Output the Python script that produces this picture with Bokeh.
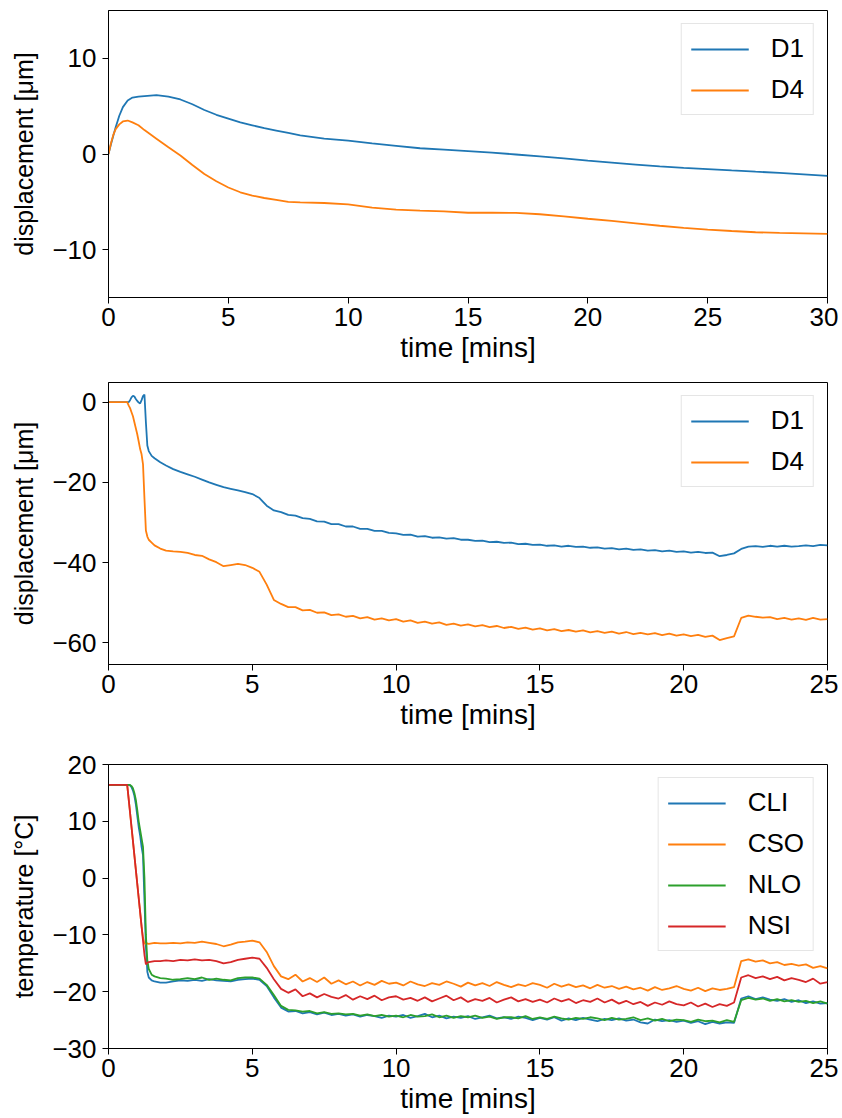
from bokeh.plotting import figure
from bokeh.layouts import column
from bokeh.models import Range1d, FixedTicker
from bokeh.embed import file_html
from bokeh.resources import INLINE

FONT = "Liberation Sans"
BLUE, ORANGE, GREEN, RED = "#1f77b4", "#ff7f0e", "#2ca02c", "#d62728"

# ---------------- Panel 1 data (time in minutes, displacement in um) ----------------
t30 = [0, 0.1, 0.2, 0.3, 0.45, 0.6, 0.8, 1.0, 1.25, 1.5, 2.0, 2.5, 3.0, 3.5, 4.0, 4.5,
       5.0, 5.5, 6.0, 6.5, 7.0, 7.5, 8.0, 9.0,
       10, 11, 12, 13, 14, 15, 16, 17, 18, 19, 20, 21, 22, 23, 24, 25, 26, 27, 28, 29, 30]
d1_a = [0, 1.0, 1.9, 2.8, 4.0, 4.9, 5.6, 5.9, 6.0, 6.05, 6.15, 6.0, 5.7, 5.2, 4.6, 4.1,
        3.7, 3.3, 3.0, 2.7, 2.45, 2.2, 1.95, 1.6,
        1.4, 1.1, 0.85, 0.6, 0.45, 0.3, 0.15, -0.05, -0.25, -0.45, -0.7, -0.9, -1.1, -1.3,
        -1.45, -1.58, -1.72, -1.85, -1.97, -2.12, -2.28]
d4_a = [0, 1.1, 2.0, 2.6, 3.1, 3.4, 3.5, 3.3, 3.0, 2.5, 1.6, 0.7, -0.15, -1.15, -2.1, -2.85,
        -3.5, -4.0, -4.35, -4.6, -4.8, -5.0, -5.05, -5.12,
        -5.26, -5.6, -5.82, -5.92, -6.0, -6.14, -6.14, -6.16, -6.3, -6.52, -6.77, -7.0,
        -7.25, -7.5, -7.72, -7.9, -8.05, -8.18, -8.25, -8.3, -8.35]

# ---------------- Shared time grid for panels 2 and 3 ----------------
t25_early = [0, 0.5, 0.65, 0.7, 0.75, 0.8, 0.85, 0.9, 0.95, 1.0, 1.05, 1.1, 1.15, 1.2,
             1.25, 1.3, 1.35, 1.4, 1.5, 1.6, 1.8]
t25_late = [2.0, 2.25, 2.5, 2.75, 3.0, 3.25, 3.5, 3.75, 4.0, 4.25, 4.5, 4.75,
            5.0, 5.25, 5.5, 5.75, 6.0, 6.25, 6.5, 6.75, 7.0, 7.25, 7.5, 7.75,
            8.0, 8.25, 8.5, 8.75, 9.0, 9.25, 9.5, 9.75, 10.0, 10.25, 10.5, 10.75,
            11.0, 11.25, 11.5, 11.75, 12.0, 12.25, 12.5, 12.75, 13.0, 13.25, 13.5, 13.75,
            14.0, 14.25, 14.5, 14.75, 15.0, 15.25, 15.5, 15.75, 16.0, 16.25, 16.5, 16.75,
            17.0, 17.25, 17.5, 17.75, 18.0, 18.25, 18.5, 18.75, 19.0, 19.25, 19.5, 19.75,
            20.0, 20.25, 20.5, 20.75, 21.0, 21.25, 21.5, 21.75, 22.0, 22.25, 22.5, 22.75,
            23.0, 23.25, 23.5, 23.75, 24.0, 24.25, 24.5, 24.75, 25.0]

# ---------------- Panel 2 data ----------------
d1_b_early = [0, 0, 0, 0, 0.5, 1.2, 1.6, 1.4, 0.8, 0.3, -0.1, -0.3, 0.5, 1.5, 1.9,
              -5.0, -10.8, -12.2, -13.4, -14.0, -15.0]
d1_b_late = [-15.8, -16.7, -17.4, -18.0, -18.6, -19.3, -20.0, -20.6,
             -21.2, -21.6, -22.0, -22.4, -22.9, -23.9, -25.8, -27.0,
             -27.4, -28.1, -28.3, -28.9, -29.1, -29.7, -29.8, -30.4,
             -30.4, -31.0, -31.0, -31.6, -31.6, -32.1, -32.1, -32.6,
             -32.7, -33.1, -33.0, -33.5, -33.4, -33.8, -33.7, -34.0,
             -33.9, -34.3, -34.3, -34.6, -34.5, -34.9, -34.8, -35.1,
             -35.0, -35.4, -35.3, -35.6, -35.5, -35.8, -35.7, -36.0,
             -35.8, -36.1, -36.0, -36.3, -36.2, -36.5, -36.4, -36.7,
             -36.5, -36.8, -36.7, -37.0, -36.9, -37.2, -37.0, -37.3,
             -37.2, -37.5, -37.3, -37.6, -37.5, -38.4, -38.1, -37.7,
             -36.6, -36.0, -35.9, -36.1, -35.8, -36.0, -35.8, -36.0,
             -35.9, -35.7, -35.9, -35.6, -35.7]
d4_b_early = [0, 0, 0, -0.8, -1.5, -2.5, -3.5, -5.0, -6.5, -8.0, -9.8, -11.7, -13.0,
              -15.5, -24.0, -32.0, -33.5, -34.3, -35.0, -35.7, -36.5]
d4_b_late = [-37.0, -37.2, -37.3, -37.6, -38.1, -38.3, -39.2, -39.9,
             -40.9, -40.6, -40.3, -40.6, -41.3, -42.3, -45.5, -49.3,
             -50.3, -51.1, -51.1, -51.9, -51.8, -52.5, -52.4, -53.1,
             -52.9, -53.5, -53.3, -53.9, -53.6, -54.2, -53.9, -54.4,
             -54.1, -54.7, -54.4, -55.0, -54.7, -55.2, -54.9, -55.5,
             -55.2, -55.7, -55.4, -55.9, -55.6, -56.1, -55.8, -56.3,
             -56.0, -56.5, -56.2, -56.7, -56.4, -56.9, -56.6, -57.1,
             -56.8, -57.2, -56.9, -57.4, -57.1, -57.5, -57.2, -57.7,
             -57.3, -57.8, -57.5, -57.9, -57.6, -58.1, -57.7, -58.2,
             -57.9, -58.3, -58.0, -58.5, -58.2, -59.3, -58.8, -58.4,
             -53.8, -53.2, -53.5, -53.7, -53.6, -54.1, -53.8, -54.2,
             -53.9, -54.3, -53.8, -54.2, -54.1]

# ---------------- Panel 3 data (temperature, deg C) ----------------
cli_early = [16.4, 16.4, 16.4, 16.4, 16.3, 16.0, 15.4, 14.5, 13.0, 11.0, 9.0, 7.5, 5.5,
             4.0, -4.0, -12.0, -16.5, -17.5, -18.0, -18.2, -18.4]
cli_late = [-18.4, -18.2, -18.0, -18.1, -17.9, -18.1, -17.8, -18.0,
            -18.1, -18.2, -17.9, -17.8, -17.7, -17.9, -19.0, -21.0,
            -22.8, -23.5, -23.4, -23.8, -23.6, -24.0, -23.7, -24.1,
            -23.9, -24.2, -24.0, -24.4, -24.1, -24.3, -24.6, -24.2,
            -24.4, -24.1, -24.6, -24.3, -23.9, -24.5, -24.2, -24.7,
            -24.4, -24.6, -24.3, -24.8, -24.5, -24.2, -24.7, -24.5,
            -24.8, -24.4, -24.6, -25.0, -24.6, -24.9, -24.5, -25.1,
            -24.7, -25.0, -24.6, -24.9, -25.2, -24.8, -25.0, -24.7,
            -25.1, -24.9, -25.4, -25.6, -24.9, -25.2, -25.0, -25.3,
            -25.1, -25.5, -25.2, -25.7, -25.3, -25.6, -25.4, -25.5,
            -21.2, -20.8, -21.3, -21.0, -21.4, -21.6, -21.3, -21.8,
            -21.5, -22.0, -21.7, -22.1, -22.0]
cso_early = [16.4, 16.4, 16.4, 14.0, 11.5, 9.0, 6.5, 4.0, 1.5, -1.0, -3.5, -6.0, -8.5,
             -10.5, -11.5, -11.6, -11.5, -11.6, -11.5, -11.4, -11.5]
cso_late = [-11.5, -11.4, -11.5, -11.3, -11.4, -11.2, -11.4, -11.6,
            -12.0, -11.7, -11.3, -11.2, -11.0, -11.3, -13.0, -15.5,
            -17.3, -17.8, -17.0, -18.2, -17.6, -18.3, -17.5, -18.6,
            -18.0, -18.7, -18.2, -18.9, -18.3, -18.8, -18.1, -18.6,
            -18.4, -18.9, -18.2, -18.7, -19.0, -18.5, -18.8, -18.2,
            -18.6, -19.1, -18.4, -18.9, -18.5, -19.0, -18.3, -18.8,
            -19.2, -18.7, -19.0, -18.5, -18.8, -19.3, -18.6, -19.1,
            -18.7, -19.2, -18.9, -19.4, -18.8, -19.3, -19.0, -19.5,
            -19.1, -19.6, -19.3, -19.8, -19.2, -19.7, -19.4, -19.0,
            -19.5, -19.8, -19.3, -19.9, -19.4, -19.7, -19.5, -19.2,
            -14.6, -14.3, -14.7, -14.5, -15.0, -14.8, -15.3, -15.1,
            -15.4, -15.2, -15.8, -15.5, -15.9]
nlo_early = [16.4, 16.4, 16.4, 16.4, 16.4, 16.2, 15.8, 15.0, 13.8, 12.0, 10.0, 8.5, 7.0,
             5.5, 0.0, -10.0, -14.5, -16.0, -17.0, -17.3, -17.6]
nlo_late = [-17.7, -17.9, -17.8, -17.6, -17.8, -17.5, -17.9, -17.7,
            -17.9, -18.0, -17.6, -17.5, -17.5, -17.7, -18.8, -20.6,
            -22.5, -23.2, -23.3, -23.5, -23.4, -23.8, -23.6, -23.9,
            -23.8, -24.0, -23.9, -24.2, -24.0, -24.3, -24.1, -24.4,
            -24.2, -24.5, -24.1, -24.4, -24.3, -24.0, -24.5, -24.2,
            -24.6, -24.3, -24.5, -24.2, -24.6, -24.4, -24.8, -24.5,
            -24.5, -24.7, -24.3, -24.8, -24.5, -24.8, -24.4, -24.7,
            -24.9, -24.6, -24.8, -24.5, -24.7, -25.0, -24.6, -24.9,
            -24.8, -24.5, -25.0, -24.7, -25.1, -24.8, -25.2, -24.9,
            -25.0, -25.3, -24.9, -25.2, -25.1, -25.4, -25.0, -25.3,
            -21.5, -21.1, -21.4, -21.2, -21.6, -21.3, -21.7, -21.5,
            -21.8, -21.6, -22.0, -21.7, -22.1]
nsi_early = [16.4, 16.4, 16.4, 14.0, 11.5, 9.0, 6.5, 4.0, 1.5, -1.0, -3.5, -6.0, -8.5,
             -11.0, -13.5, -15.2, -14.9, -14.8, -14.7, -14.6, -14.6]
nsi_late = [-14.5, -14.6, -14.4, -14.5, -14.3, -14.5, -14.4, -14.6,
            -15.0, -14.8, -14.4, -14.2, -14.0, -14.2, -15.8, -17.8,
            -19.5, -20.2, -19.6, -20.8, -20.3, -21.0, -20.4, -20.9,
            -21.2, -20.6, -21.4, -20.8, -21.3, -20.7, -21.5, -21.0,
            -20.8, -21.4, -21.1, -21.6, -21.0, -21.7, -21.2, -20.7,
            -21.5, -21.0, -21.8, -21.3, -21.6, -21.1, -21.9, -21.4,
            -21.0, -21.7, -21.3, -21.8, -21.4, -21.9, -21.2, -21.7,
            -21.3, -22.0, -21.5, -21.8, -21.2, -21.9, -21.4, -22.1,
            -21.6, -22.2, -21.8, -22.5, -21.9, -22.3, -21.7, -22.2,
            -22.4, -21.9, -22.6, -22.1, -22.7, -22.2, -22.5, -21.9,
            -17.5, -17.1, -17.6, -17.3, -17.8, -17.4, -18.0, -17.6,
            -17.9, -18.3, -17.7, -18.6, -18.3]

# ---------------- Axis labels / ticks ----------------
x_label = "time [mins]"
y_label_disp = "displacement [μm]"
y_label_temp = "temperature [°C]"
x_ticks_30 = [0, 5, 10, 15, 20, 25, 30]
x_ticks_25 = [0, 5, 10, 15, 20, 25]
y_ticks_1 = [-10, 0, 10]
y_ticks_2 = [-60, -40, -20, 0]
y_ticks_3 = [-30, -20, -10, 0, 10, 20]

t25 = t25_early + t25_late


def make_fig(height, top, bottom, xr, yr, xticks, yticks, ylabel):
    p = figure(width=838, height=height, x_range=Range1d(*xr), y_range=Range1d(*yr),
               output_backend="svg", toolbar_location=None,
               min_border_left=108, min_border_right=11,
               min_border_top=top, min_border_bottom=bottom,
               x_axis_label=x_label, y_axis_label=ylabel)
    p.grid.visible = False
    p.outline_line_color = "black"
    p.outline_line_width = 1
    p.outline_line_alpha = 1
    p.background_fill_color = "white"
    p.border_fill_color = "white"
    for ax in (p.xaxis[0], p.yaxis[0]):
        ax.major_label_text_font = FONT
        ax.major_label_text_font_size = "26px"
        ax.major_label_text_color = "black"
        ax.axis_label_text_font = FONT
        ax.axis_label_text_font_style = "normal"
        ax.axis_label_text_color = "black"
        ax.axis_line_color = "black"
        ax.major_tick_line_color = "black"
        ax.major_tick_out = 6
        ax.major_tick_in = 0
        ax.minor_tick_out = 0
        ax.minor_tick_in = 0
    p.xaxis[0].axis_label_text_font_size = "28px"
    p.yaxis[0].axis_label_text_font_size = "25px"
    p.xaxis[0].ticker = FixedTicker(ticks=xticks)
    p.yaxis[0].ticker = FixedTicker(ticks=yticks)
    p.xaxis[0].major_label_standoff = 4
    p.xaxis[0].axis_label_standoff = 3
    p.yaxis[0].major_label_standoff = 6
    p.yaxis[0].axis_label_standoff = 11
    p.yaxis[0].major_label_overrides = {v: str(v).replace("-", "\u2212") for v in yticks}
    return p


def style_legend(p, spacing):
    lg = p.legend[0]
    lg.location = "top_right"
    lg.margin = 13
    lg.padding = 9
    lg.spacing = spacing
    lg.glyph_width = 58
    lg.glyph_height = 30
    lg.label_height = 30
    lg.label_standoff = 22
    lg.label_text_font = FONT
    lg.label_text_font_size = "26px"
    lg.label_text_color = "black"
    lg.border_line_color = "#cccccc"
    lg.border_line_width = 1
    lg.background_fill_color = "white"
    lg.background_fill_alpha = 0.85


LW = 1.8

p1 = make_fig(10 + 287 + 72, 10, 72, (0, 30), (-15, 15), x_ticks_30, y_ticks_1, y_label_disp)
p1.line(t30, d1_a, color=BLUE, line_width=LW, legend_label="D1")
p1.line(t30, d4_a, color=ORANGE, line_width=LW, legend_label="D4")
style_legend(p1, 10)

p2 = make_fig(13 + 282 + 76, 13, 76, (0, 25), (-65.4, 4.9), x_ticks_25, y_ticks_2, y_label_disp)
p2.line(t25, d1_b_early + d1_b_late, color=BLUE, line_width=LW, legend_label="D1")
p2.line(t25, d4_b_early + d4_b_late, color=ORANGE, line_width=LW, legend_label="D4")
style_legend(p2, 10)

p3 = make_fig(24 + 286 + 66, 24, 66, (0, 25), (-30, 20), x_ticks_25, y_ticks_3, y_label_temp)
p3.line(t25, cli_early + cli_late, color=BLUE, line_width=LW, legend_label="CLI")
p3.line(t25, cso_early + cso_late, color=ORANGE, line_width=LW, legend_label="CSO")
p3.line(t25, nlo_early + nlo_late, color=GREEN, line_width=LW, legend_label="NLO")
p3.line(t25, nsi_early + nsi_late, color=RED, line_width=LW, legend_label="NSI")
style_legend(p3, 10)

layout = column(p1, p2, p3, spacing=0)
open("out.html", "w").write(file_html(layout, INLINE))
